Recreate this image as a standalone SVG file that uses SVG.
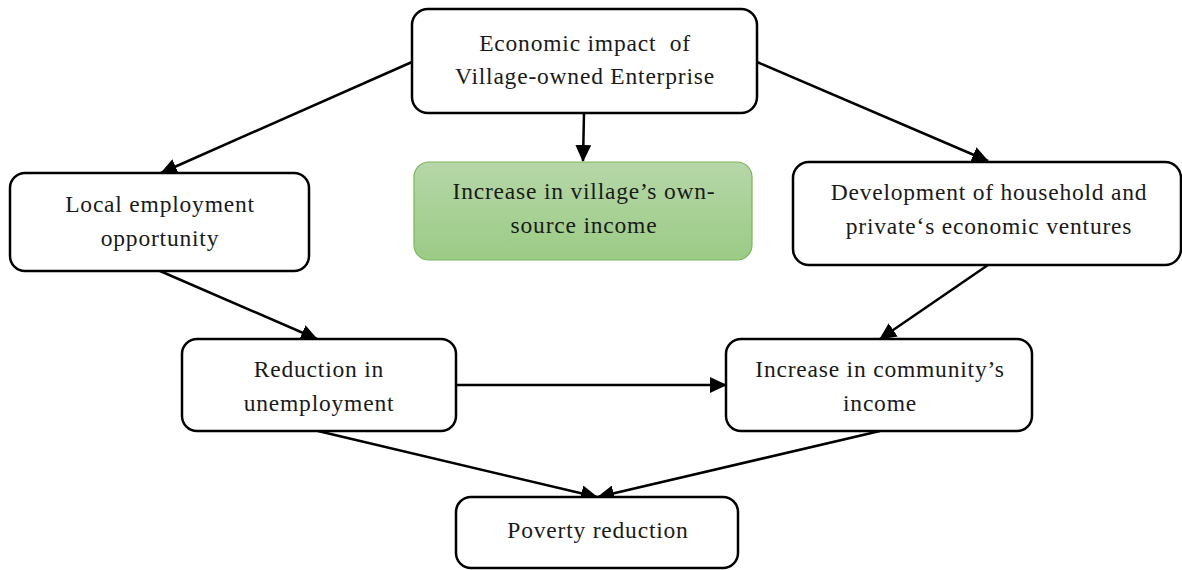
<svg xmlns="http://www.w3.org/2000/svg" width="1182" height="570" viewBox="0 0 1182 570">
  <style>
    .box { fill: #ffffff; stroke: #000000; stroke-width: 2.5; }
    .hl { fill: url(#greenFill); stroke: #7ab55c; stroke-width: 1.2; }
    .lbl { font-family: "Liberation Serif", "DejaVu Serif", serif; font-size: 23.5px; letter-spacing: 0.8px; fill: #1a1a1a; text-anchor: middle; }
    .edge { stroke: #000000; stroke-width: 2.5; fill: none; marker-end: url(#arrow); }
  </style>
  <defs>
    <linearGradient id="greenFill" x1="0" y1="0" x2="0" y2="1">
      <stop offset="0" stop-color="#b6d7a8"/>
      <stop offset="1" stop-color="#9bcb85"/>
    </linearGradient>
    <marker id="arrow" markerUnits="userSpaceOnUse" markerWidth="18" markerHeight="16" refX="16" refY="8" orient="auto">
      <path d="M0,0 L17,8 L0,16 Z" fill="#000000"/>
    </marker>
  </defs>

  <g id="connectors">
    <line class="edge" x1="412" y1="62" x2="161" y2="173"/>
    <line class="edge" x1="584" y1="113" x2="583" y2="161"/>
    <line class="edge" x1="757" y1="62" x2="988" y2="161"/>
    <line class="edge" x1="160" y1="271" x2="317" y2="339"/>
    <line class="edge" x1="988" y1="265" x2="880" y2="339"/>
    <line class="edge" x1="456" y1="385" x2="726" y2="385"/>
    <line class="edge" x1="318" y1="431" x2="597" y2="497"/>
    <line class="edge" x1="880" y1="431" x2="598" y2="497"/>
  </g>

  <g id="node-economic-impact">
    <rect class="box" x="412" y="9" width="345" height="104" rx="16"/>
    <text class="lbl" x="585" y="51" xml:space="preserve">Economic impact  of</text>
    <text class="lbl" x="585" y="84">Village-owned Enterprise</text>
  </g>

  <g id="node-own-source-income">
    <rect class="hl" x="414" y="162" width="338" height="98" rx="15"/>
    <text class="lbl" x="584" y="199">Increase in village’s own-</text>
    <text class="lbl" x="584" y="233">source income</text>
  </g>

  <g id="node-local-employment">
    <rect class="box" x="10" y="173" width="299" height="98" rx="15"/>
    <text class="lbl" x="160" y="212">Local employment</text>
    <text class="lbl" x="160" y="246">opportunity</text>
  </g>

  <g id="node-household-ventures">
    <rect class="box" x="793" y="162" width="388" height="103" rx="16"/>
    <text class="lbl" x="989" y="200">Development of household and</text>
    <text class="lbl" x="989" y="234">private‘s economic ventures</text>
  </g>

  <g id="node-unemployment">
    <rect class="box" x="182" y="339" width="274" height="92" rx="15"/>
    <text class="lbl" x="319" y="377">Reduction in</text>
    <text class="lbl" x="319" y="411">unemployment</text>
  </g>

  <g id="node-community-income">
    <rect class="box" x="726" y="339" width="306" height="92" rx="15"/>
    <text class="lbl" x="880" y="377">Increase in community’s</text>
    <text class="lbl" x="880" y="411">income</text>
  </g>

  <g id="node-poverty">
    <rect class="box" x="456" y="497" width="282" height="71" rx="15"/>
    <text class="lbl" x="598" y="538">Poverty reduction</text>
  </g>
</svg>
